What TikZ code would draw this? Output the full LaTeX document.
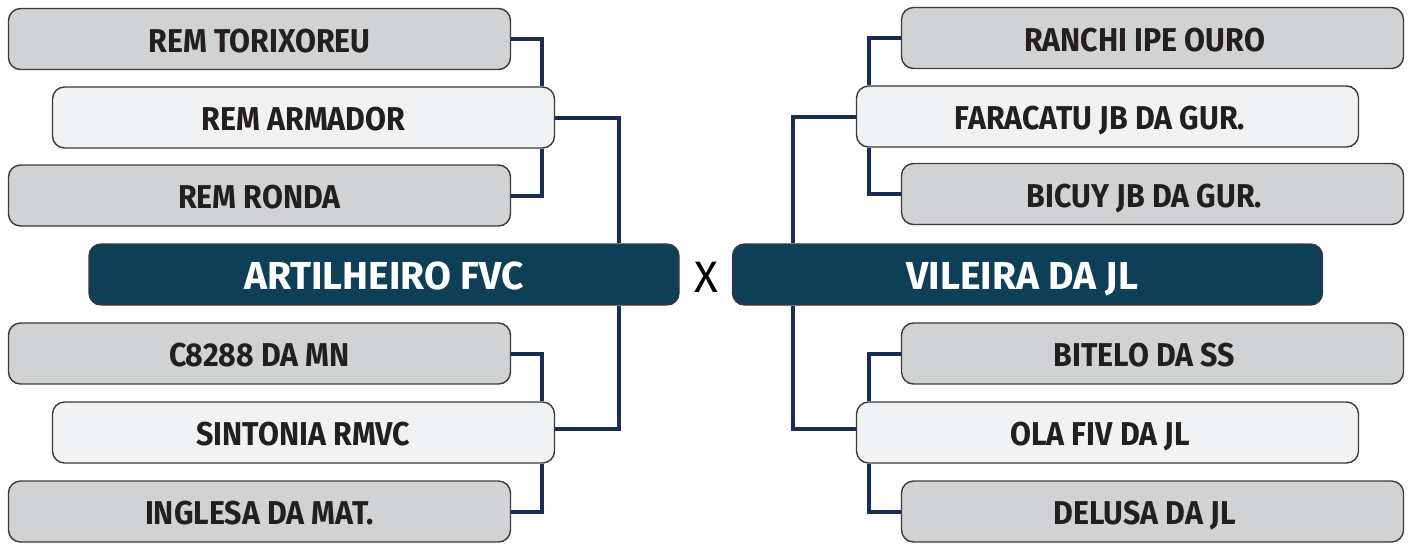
\documentclass[tikz,border=0pt]{standalone}
\usepackage{fontspec}
\setmainfont{Fira Sans}[FakeStretch=0.92]
\newfontfamily\titlefont{Fira Sans}[FakeStretch=1.0]
\newfontfamily\xfont{Fira Sans}[FakeStretch=1.0]
\usetikzlibrary{backgrounds}
\definecolor{boxgray}{HTML}{D1D2D4}
\definecolor{boxlight}{HTML}{F1F2F3}
\definecolor{boxdark}{HTML}{0D3F57}
\definecolor{edgegray}{HTML}{3A3A3A}
\definecolor{navyline}{HTML}{1B2C55}
\definecolor{txt}{HTML}{231F20}
\tikzset{
  x=0.5pt, y=-0.5pt,
  teambox/.style={draw=edgegray, line width=0.7pt, rounded corners=6pt,
    minimum width=251pt, minimum height=30.5pt, inner sep=0pt,
    text height=13.4pt, text depth=0pt,
    font=\bfseries\fontsize{16.5}{18}\selectfont, text=txt},
  graybox/.style={teambox, fill=boxgray},
  lightbox/.style={teambox, fill=boxlight},
  finalbox/.style={draw=edgegray, line width=0.7pt, rounded corners=6pt, fill=boxdark,
    minimum width=295pt, minimum height=30.5pt, inner sep=0pt,
    text height=14.9pt, text depth=0pt,
    font=\titlefont\bfseries\fontsize{19.5}{21}\selectfont, text=white},
  conn/.style={draw=navyline, line width=2pt}
}
\begin{document}
\begin{tikzpicture}
\useasboundingbox (0,0) rectangle (1412,543);
% left side
\node[graybox]  (torix)  at (259.5,39)    {REM TORIXOREU};
\node[lightbox] (armad)  at (303.5,117.5) {REM ARMADOR};
\node[graybox]  (ronda)  at (259.5,195.5) {REM RONDA};
\node[finalbox] (artil)  at (384,274.5)   {ARTILHEIRO FVC};
\node[graybox]  (c8288)  at (259.5,353.5) {C8288 DA MN};
\node[lightbox] (sinto)  at (303.5,432.5) {SINTONIA RMVC};
\node[graybox]  (ingle)  at (259.5,511.5) {INGLESA DA MAT.};
% right side
\node[graybox]  (ranch)  at (1152.5,38)    {\hspace*{-8pt}RANCHI IPE OURO};
\node[lightbox] (farac)  at (1107.5,116.5) {\hspace*{-7.5pt}FARACATU JB DA GUR.};
\node[graybox]  (bicuy)  at (1152.5,194)   {\hspace*{-8pt}BICUY JB DA GUR.};
\node[finalbox] (vilei)  at (1027.5,274.5) {\hspace*{-5pt}VILEIRA DA JL};
\node[graybox]  (bitel)  at (1152.5,353.5) {\hspace*{-8pt}BITELO DA SS};
\node[lightbox] (olafi)  at (1107.5,432.5) {\hspace*{-7.5pt}OLA FIV DA JL};
\node[graybox]  (delus)  at (1152.5,511.5) {\hspace*{-8pt}DELUSA DA JL};
% versus
\node[font=\xfont\fontsize{22}{24}\selectfont, text=black, inner sep=0pt] (vs) at (706,277) {X};
% connector columns
\coordinate (lv1) at (542,0);
\coordinate (lv2) at (619,0);
\coordinate (rv1) at (869,0);
\coordinate (rv2) at (793,0);
\begin{scope}[on background layer]
\draw[conn] (torix.east) -| (lv1 |- armad.north);
\draw[conn] (ronda.east) -| (lv1 |- armad.south);
\draw[conn] (armad.east) -| (lv2 |- artil.north);
\draw[conn] (c8288.east) -| (lv1 |- sinto.north);
\draw[conn] (ingle.east) -| (lv1 |- sinto.south);
\draw[conn] ([yshift=2pt]sinto.east) -| (lv2 |- artil.south);
\draw[conn] (ranch.west) -| (rv1 |- farac.north);
\draw[conn] (bicuy.west) -| (rv1 |- farac.south);
\draw[conn] (farac.west) -| (rv2 |- vilei.north);
\draw[conn] (bitel.west) -| (rv1 |- olafi.north);
\draw[conn] (delus.west) -| (rv1 |- olafi.south);
\draw[conn] ([yshift=2pt]olafi.west) -| (rv2 |- vilei.south);
\end{scope}
\end{tikzpicture}
\end{document}
